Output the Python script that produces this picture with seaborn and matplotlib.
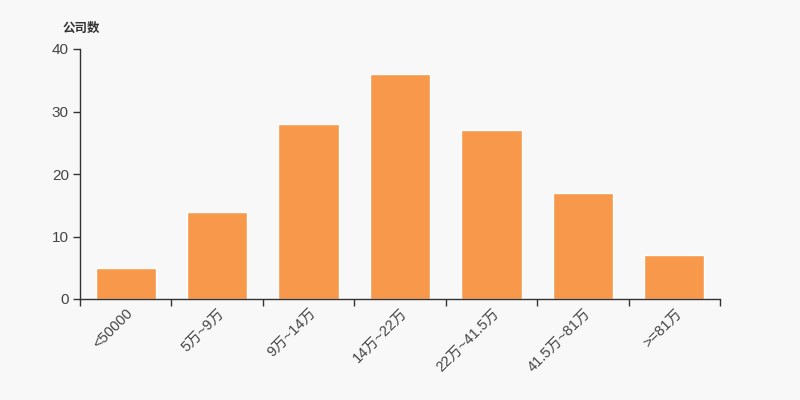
import numpy as np
import pandas as pd
import matplotlib
matplotlib.use("Agg")
import matplotlib.pyplot as plt
import seaborn as sns

categories = ["<50000", "5万~9万", "9万~14万", "14万~22万", "22万~41.5万", "41.5万~81万", ">=81万"]
counts = [5, 14, 28, 36, 27, 17, 7]

df = pd.DataFrame({"range": categories, "count": counts})

sns.set_style("white")
plt.rcParams["font.family"] = ["Liberation Sans", "Noto Sans CJK SC", "DejaVu Sans"]

fig = plt.figure(figsize=(8, 4), dpi=100, facecolor="#f8f8f8")
ax = fig.add_axes([0.1, 0.2525, 0.8, 0.625])
ax.set_facecolor("#f8f8f8")

sns.barplot(data=df, x="range", y="count", color="#f7984a", saturation=1,
            width=0.66, ax=ax)

ax.set_xlim(-0.5, len(categories) - 0.5)
ax.set_ylim(0, 40)
ax.set_yticks([0, 10, 20, 30, 40])
ax.set_xlabel("")
ax.set_ylabel("")

for s in ["top", "right"]:
    ax.spines[s].set_visible(False)
for s in ["left", "bottom"]:
    ax.spines[s].set_color("#333333")
    ax.spines[s].set_linewidth(1)

# ticks between categories, labels under bars
ax.set_xticks(np.arange(-0.5, len(categories), 1), minor=True)
ax.tick_params(axis="x", which="major", length=0, pad=5, bottom=True)
ax.tick_params(axis="x", which="minor", length=5, width=1, color="#333333",
               direction="out", bottom=True)
ax.tick_params(axis="y", length=5, width=1, color="#333333", direction="out",
               labelsize=11, labelcolor="#444444", left=True, pad=3)
plt.setp(ax.get_xticklabels(), rotation=45, ha="right", rotation_mode="anchor",
         fontsize=10.5, color="#444444")

fig.text(0.078, 0.93, "公司数", fontsize=9, fontweight="bold", color="#333333",
         ha="left", va="center", family=["Noto Sans CJK SC", "DejaVu Sans"])

fig.savefig("out.png", dpi=100, facecolor="#f8f8f8")
